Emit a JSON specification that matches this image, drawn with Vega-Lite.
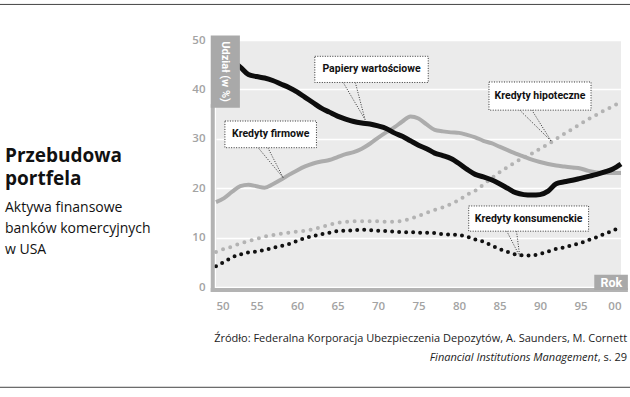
{
  "$schema": "https://vega.github.io/schema/vega-lite/v6.json",
  "width": 405,
  "height": 247,
  "autosize": {"type": "none"},
  "padding": {"left": 216, "top": 40, "right": 9, "bottom": 110},
  "background": "white",
  "config": {
    "view": {"fill": "#ebebeb", "stroke": null},
    "font": "Open Sans"
  },
  "title": {
    "text": ["Przebudowa", "portfela"],
    "subtitle": ["Aktywa finansowe", "banków komercyjnych", "w USA"],
    "anchor": "start",
    "frame": "group",
    "orient": "top",
    "font": "Open Sans",
    "fontSize": 19,
    "fontWeight": "bold",
    "color": "#111111",
    "lineHeight": 23,
    "subtitleFont": "Open Sans",
    "subtitleFontSize": 14,
    "subtitleColor": "#111111",
    "subtitleLineHeight": 21,
    "subtitlePadding": 12,
    "offset": 0,
    "dx": -211,
    "dy": 253
  },
  "datasets": {
    "series": [
      {"seria": "Papiery wartościowe", "rok": 50, "udzial": 47.0},
      {"seria": "Papiery wartościowe", "rok": 51, "udzial": 46.3},
      {"seria": "Papiery wartościowe", "rok": 52, "udzial": 45.7},
      {"seria": "Papiery wartościowe", "rok": 53, "udzial": 44.5},
      {"seria": "Papiery wartościowe", "rok": 54, "udzial": 43.0},
      {"seria": "Papiery wartościowe", "rok": 55, "udzial": 42.6},
      {"seria": "Papiery wartościowe", "rok": 56, "udzial": 42.3},
      {"seria": "Papiery wartościowe", "rok": 57, "udzial": 41.8},
      {"seria": "Papiery wartościowe", "rok": 58, "udzial": 41.1},
      {"seria": "Papiery wartościowe", "rok": 59, "udzial": 40.4},
      {"seria": "Papiery wartościowe", "rok": 60, "udzial": 39.5},
      {"seria": "Papiery wartościowe", "rok": 61, "udzial": 38.4},
      {"seria": "Papiery wartościowe", "rok": 62, "udzial": 37.3},
      {"seria": "Papiery wartościowe", "rok": 63, "udzial": 36.2},
      {"seria": "Papiery wartościowe", "rok": 64, "udzial": 35.4},
      {"seria": "Papiery wartościowe", "rok": 65, "udzial": 34.6},
      {"seria": "Papiery wartościowe", "rok": 66, "udzial": 34.0},
      {"seria": "Papiery wartościowe", "rok": 67, "udzial": 33.5},
      {"seria": "Papiery wartościowe", "rok": 68, "udzial": 33.2},
      {"seria": "Papiery wartościowe", "rok": 69, "udzial": 33.0},
      {"seria": "Papiery wartościowe", "rok": 70, "udzial": 32.6},
      {"seria": "Papiery wartościowe", "rok": 71, "udzial": 32.1},
      {"seria": "Papiery wartościowe", "rok": 72, "udzial": 31.2},
      {"seria": "Papiery wartościowe", "rok": 73, "udzial": 30.5},
      {"seria": "Papiery wartościowe", "rok": 74, "udzial": 29.6},
      {"seria": "Papiery wartościowe", "rok": 75, "udzial": 28.7},
      {"seria": "Papiery wartościowe", "rok": 76, "udzial": 28.0},
      {"seria": "Papiery wartościowe", "rok": 77, "udzial": 27.1},
      {"seria": "Papiery wartościowe", "rok": 78, "udzial": 26.6},
      {"seria": "Papiery wartościowe", "rok": 79, "udzial": 26.0},
      {"seria": "Papiery wartościowe", "rok": 80, "udzial": 25.0},
      {"seria": "Papiery wartościowe", "rok": 81, "udzial": 23.8},
      {"seria": "Papiery wartościowe", "rok": 82, "udzial": 22.8},
      {"seria": "Papiery wartościowe", "rok": 83, "udzial": 22.3},
      {"seria": "Papiery wartościowe", "rok": 84, "udzial": 21.7},
      {"seria": "Papiery wartościowe", "rok": 85, "udzial": 20.9},
      {"seria": "Papiery wartościowe", "rok": 86, "udzial": 20.0},
      {"seria": "Papiery wartościowe", "rok": 87, "udzial": 19.1},
      {"seria": "Papiery wartościowe", "rok": 88, "udzial": 18.7},
      {"seria": "Papiery wartościowe", "rok": 89, "udzial": 18.6},
      {"seria": "Papiery wartościowe", "rok": 90, "udzial": 18.7},
      {"seria": "Papiery wartościowe", "rok": 91, "udzial": 19.4},
      {"seria": "Papiery wartościowe", "rok": 92, "udzial": 20.9},
      {"seria": "Papiery wartościowe", "rok": 93, "udzial": 21.3},
      {"seria": "Papiery wartościowe", "rok": 94, "udzial": 21.6},
      {"seria": "Papiery wartościowe", "rok": 95, "udzial": 22.0},
      {"seria": "Papiery wartościowe", "rok": 96, "udzial": 22.4},
      {"seria": "Papiery wartościowe", "rok": 97, "udzial": 22.8},
      {"seria": "Papiery wartościowe", "rok": 98, "udzial": 23.3},
      {"seria": "Papiery wartościowe", "rok": 99, "udzial": 23.9},
      {"seria": "Papiery wartościowe", "rok": 100, "udzial": 24.9},

      {"seria": "Kredyty firmowe", "rok": 50, "udzial": 17.2},
      {"seria": "Kredyty firmowe", "rok": 51, "udzial": 18.0},
      {"seria": "Kredyty firmowe", "rok": 52, "udzial": 19.3},
      {"seria": "Kredyty firmowe", "rok": 53, "udzial": 20.4},
      {"seria": "Kredyty firmowe", "rok": 54, "udzial": 20.7},
      {"seria": "Kredyty firmowe", "rok": 55, "udzial": 20.4},
      {"seria": "Kredyty firmowe", "rok": 56, "udzial": 20.1},
      {"seria": "Kredyty firmowe", "rok": 57, "udzial": 20.8},
      {"seria": "Kredyty firmowe", "rok": 58, "udzial": 21.7},
      {"seria": "Kredyty firmowe", "rok": 59, "udzial": 22.7},
      {"seria": "Kredyty firmowe", "rok": 60, "udzial": 23.6},
      {"seria": "Kredyty firmowe", "rok": 61, "udzial": 24.4},
      {"seria": "Kredyty firmowe", "rok": 62, "udzial": 25.0},
      {"seria": "Kredyty firmowe", "rok": 63, "udzial": 25.4},
      {"seria": "Kredyty firmowe", "rok": 64, "udzial": 25.7},
      {"seria": "Kredyty firmowe", "rok": 65, "udzial": 26.3},
      {"seria": "Kredyty firmowe", "rok": 66, "udzial": 26.9},
      {"seria": "Kredyty firmowe", "rok": 67, "udzial": 27.3},
      {"seria": "Kredyty firmowe", "rok": 68, "udzial": 28.0},
      {"seria": "Kredyty firmowe", "rok": 69, "udzial": 29.0},
      {"seria": "Kredyty firmowe", "rok": 70, "udzial": 30.2},
      {"seria": "Kredyty firmowe", "rok": 71, "udzial": 31.3},
      {"seria": "Kredyty firmowe", "rok": 72, "udzial": 32.3},
      {"seria": "Kredyty firmowe", "rok": 73, "udzial": 33.5},
      {"seria": "Kredyty firmowe", "rok": 74, "udzial": 34.5},
      {"seria": "Kredyty firmowe", "rok": 75, "udzial": 34.1},
      {"seria": "Kredyty firmowe", "rok": 76, "udzial": 32.9},
      {"seria": "Kredyty firmowe", "rok": 77, "udzial": 31.8},
      {"seria": "Kredyty firmowe", "rok": 78, "udzial": 31.5},
      {"seria": "Kredyty firmowe", "rok": 79, "udzial": 31.3},
      {"seria": "Kredyty firmowe", "rok": 80, "udzial": 31.2},
      {"seria": "Kredyty firmowe", "rok": 81, "udzial": 30.8},
      {"seria": "Kredyty firmowe", "rok": 82, "udzial": 30.3},
      {"seria": "Kredyty firmowe", "rok": 83, "udzial": 29.6},
      {"seria": "Kredyty firmowe", "rok": 84, "udzial": 29.1},
      {"seria": "Kredyty firmowe", "rok": 85, "udzial": 28.4},
      {"seria": "Kredyty firmowe", "rok": 86, "udzial": 27.7},
      {"seria": "Kredyty firmowe", "rok": 87, "udzial": 27.0},
      {"seria": "Kredyty firmowe", "rok": 88, "udzial": 26.4},
      {"seria": "Kredyty firmowe", "rok": 89, "udzial": 25.8},
      {"seria": "Kredyty firmowe", "rok": 90, "udzial": 25.3},
      {"seria": "Kredyty firmowe", "rok": 91, "udzial": 24.9},
      {"seria": "Kredyty firmowe", "rok": 92, "udzial": 24.6},
      {"seria": "Kredyty firmowe", "rok": 93, "udzial": 24.4},
      {"seria": "Kredyty firmowe", "rok": 94, "udzial": 24.2},
      {"seria": "Kredyty firmowe", "rok": 95, "udzial": 24.0},
      {"seria": "Kredyty firmowe", "rok": 96, "udzial": 23.5},
      {"seria": "Kredyty firmowe", "rok": 97, "udzial": 23.2},
      {"seria": "Kredyty firmowe", "rok": 98, "udzial": 23.1},
      {"seria": "Kredyty firmowe", "rok": 99, "udzial": 23.1},
      {"seria": "Kredyty firmowe", "rok": 100, "udzial": 23.1},

      {"seria": "Kredyty hipoteczne", "rok": 50, "udzial": 7.1},
      {"seria": "Kredyty hipoteczne", "rok": 51, "udzial": 7.7},
      {"seria": "Kredyty hipoteczne", "rok": 52, "udzial": 8.2},
      {"seria": "Kredyty hipoteczne", "rok": 53, "udzial": 8.8},
      {"seria": "Kredyty hipoteczne", "rok": 54, "udzial": 9.3},
      {"seria": "Kredyty hipoteczne", "rok": 55, "udzial": 9.7},
      {"seria": "Kredyty hipoteczne", "rok": 56, "udzial": 10.2},
      {"seria": "Kredyty hipoteczne", "rok": 57, "udzial": 10.5},
      {"seria": "Kredyty hipoteczne", "rok": 58, "udzial": 10.8},
      {"seria": "Kredyty hipoteczne", "rok": 59, "udzial": 11.0},
      {"seria": "Kredyty hipoteczne", "rok": 60, "udzial": 11.2},
      {"seria": "Kredyty hipoteczne", "rok": 61, "udzial": 11.4},
      {"seria": "Kredyty hipoteczne", "rok": 62, "udzial": 11.7},
      {"seria": "Kredyty hipoteczne", "rok": 63, "udzial": 12.1},
      {"seria": "Kredyty hipoteczne", "rok": 64, "udzial": 12.6},
      {"seria": "Kredyty hipoteczne", "rok": 65, "udzial": 13.0},
      {"seria": "Kredyty hipoteczne", "rok": 66, "udzial": 13.2},
      {"seria": "Kredyty hipoteczne", "rok": 67, "udzial": 13.3},
      {"seria": "Kredyty hipoteczne", "rok": 68, "udzial": 13.3},
      {"seria": "Kredyty hipoteczne", "rok": 69, "udzial": 13.3},
      {"seria": "Kredyty hipoteczne", "rok": 70, "udzial": 13.3},
      {"seria": "Kredyty hipoteczne", "rok": 71, "udzial": 13.2},
      {"seria": "Kredyty hipoteczne", "rok": 72, "udzial": 13.2},
      {"seria": "Kredyty hipoteczne", "rok": 73, "udzial": 13.4},
      {"seria": "Kredyty hipoteczne", "rok": 74, "udzial": 13.8},
      {"seria": "Kredyty hipoteczne", "rok": 75, "udzial": 14.4},
      {"seria": "Kredyty hipoteczne", "rok": 76, "udzial": 15.0},
      {"seria": "Kredyty hipoteczne", "rok": 77, "udzial": 15.6},
      {"seria": "Kredyty hipoteczne", "rok": 78, "udzial": 16.1},
      {"seria": "Kredyty hipoteczne", "rok": 79, "udzial": 16.8},
      {"seria": "Kredyty hipoteczne", "rok": 80, "udzial": 17.6},
      {"seria": "Kredyty hipoteczne", "rok": 81, "udzial": 18.7},
      {"seria": "Kredyty hipoteczne", "rok": 82, "udzial": 19.5},
      {"seria": "Kredyty hipoteczne", "rok": 83, "udzial": 20.7},
      {"seria": "Kredyty hipoteczne", "rok": 84, "udzial": 22.0},
      {"seria": "Kredyty hipoteczne", "rok": 85, "udzial": 23.2},
      {"seria": "Kredyty hipoteczne", "rok": 86, "udzial": 24.3},
      {"seria": "Kredyty hipoteczne", "rok": 87, "udzial": 25.3},
      {"seria": "Kredyty hipoteczne", "rok": 88, "udzial": 26.2},
      {"seria": "Kredyty hipoteczne", "rok": 89, "udzial": 27.0},
      {"seria": "Kredyty hipoteczne", "rok": 90, "udzial": 28.0},
      {"seria": "Kredyty hipoteczne", "rok": 91, "udzial": 28.9},
      {"seria": "Kredyty hipoteczne", "rok": 92, "udzial": 30.0},
      {"seria": "Kredyty hipoteczne", "rok": 93, "udzial": 31.0},
      {"seria": "Kredyty hipoteczne", "rok": 94, "udzial": 32.0},
      {"seria": "Kredyty hipoteczne", "rok": 95, "udzial": 33.0},
      {"seria": "Kredyty hipoteczne", "rok": 96, "udzial": 34.0},
      {"seria": "Kredyty hipoteczne", "rok": 97, "udzial": 34.9},
      {"seria": "Kredyty hipoteczne", "rok": 98, "udzial": 35.8},
      {"seria": "Kredyty hipoteczne", "rok": 99, "udzial": 36.6},
      {"seria": "Kredyty hipoteczne", "rok": 100, "udzial": 37.5},

      {"seria": "Kredyty konsumenckie", "rok": 50, "udzial": 4.2},
      {"seria": "Kredyty konsumenckie", "rok": 51, "udzial": 5.1},
      {"seria": "Kredyty konsumenckie", "rok": 52, "udzial": 6.0},
      {"seria": "Kredyty konsumenckie", "rok": 53, "udzial": 6.6},
      {"seria": "Kredyty konsumenckie", "rok": 54, "udzial": 7.0},
      {"seria": "Kredyty konsumenckie", "rok": 55, "udzial": 7.2},
      {"seria": "Kredyty konsumenckie", "rok": 56, "udzial": 7.5},
      {"seria": "Kredyty konsumenckie", "rok": 57, "udzial": 7.9},
      {"seria": "Kredyty konsumenckie", "rok": 58, "udzial": 8.3},
      {"seria": "Kredyty konsumenckie", "rok": 59, "udzial": 8.7},
      {"seria": "Kredyty konsumenckie", "rok": 60, "udzial": 9.3},
      {"seria": "Kredyty konsumenckie", "rok": 61, "udzial": 9.9},
      {"seria": "Kredyty konsumenckie", "rok": 62, "udzial": 10.3},
      {"seria": "Kredyty konsumenckie", "rok": 63, "udzial": 10.7},
      {"seria": "Kredyty konsumenckie", "rok": 64, "udzial": 11.0},
      {"seria": "Kredyty konsumenckie", "rok": 65, "udzial": 11.3},
      {"seria": "Kredyty konsumenckie", "rok": 66, "udzial": 11.4},
      {"seria": "Kredyty konsumenckie", "rok": 67, "udzial": 11.5},
      {"seria": "Kredyty konsumenckie", "rok": 68, "udzial": 11.6},
      {"seria": "Kredyty konsumenckie", "rok": 69, "udzial": 11.5},
      {"seria": "Kredyty konsumenckie", "rok": 70, "udzial": 11.4},
      {"seria": "Kredyty konsumenckie", "rok": 71, "udzial": 11.3},
      {"seria": "Kredyty konsumenckie", "rok": 72, "udzial": 11.2},
      {"seria": "Kredyty konsumenckie", "rok": 73, "udzial": 11.1},
      {"seria": "Kredyty konsumenckie", "rok": 74, "udzial": 11.1},
      {"seria": "Kredyty konsumenckie", "rok": 75, "udzial": 11.0},
      {"seria": "Kredyty konsumenckie", "rok": 76, "udzial": 11.0},
      {"seria": "Kredyty konsumenckie", "rok": 77, "udzial": 10.9},
      {"seria": "Kredyty konsumenckie", "rok": 78, "udzial": 10.7},
      {"seria": "Kredyty konsumenckie", "rok": 79, "udzial": 10.6},
      {"seria": "Kredyty konsumenckie", "rok": 80, "udzial": 10.5},
      {"seria": "Kredyty konsumenckie", "rok": 81, "udzial": 10.2},
      {"seria": "Kredyty konsumenckie", "rok": 82, "udzial": 9.6},
      {"seria": "Kredyty konsumenckie", "rok": 83, "udzial": 9.2},
      {"seria": "Kredyty konsumenckie", "rok": 84, "udzial": 8.4},
      {"seria": "Kredyty konsumenckie", "rok": 85, "udzial": 7.7},
      {"seria": "Kredyty konsumenckie", "rok": 86, "udzial": 7.1},
      {"seria": "Kredyty konsumenckie", "rok": 87, "udzial": 6.6},
      {"seria": "Kredyty konsumenckie", "rok": 88, "udzial": 6.4},
      {"seria": "Kredyty konsumenckie", "rok": 89, "udzial": 6.4},
      {"seria": "Kredyty konsumenckie", "rok": 90, "udzial": 6.7},
      {"seria": "Kredyty konsumenckie", "rok": 91, "udzial": 7.2},
      {"seria": "Kredyty konsumenckie", "rok": 92, "udzial": 7.7},
      {"seria": "Kredyty konsumenckie", "rok": 93, "udzial": 8.0},
      {"seria": "Kredyty konsumenckie", "rok": 94, "udzial": 8.5},
      {"seria": "Kredyty konsumenckie", "rok": 95, "udzial": 8.9},
      {"seria": "Kredyty konsumenckie", "rok": 96, "udzial": 9.5},
      {"seria": "Kredyty konsumenckie", "rok": 97, "udzial": 10.1},
      {"seria": "Kredyty konsumenckie", "rok": 98, "udzial": 10.8},
      {"seria": "Kredyty konsumenckie", "rok": 99, "udzial": 11.4},
      {"seria": "Kredyty konsumenckie", "rok": 100, "udzial": 12.2}
    ],
    "callouts": [
      {"label": "Papiery wartościowe", "x1": 62.2, "x2": 76.2, "y1": 41.4, "y2": 46.7, "tx": 69.2, "ty": 44.05, "base1": 65.7, "base2": 67.2, "tipx": 68.4, "tipy": 33.9},
      {"label": "Kredyty firmowe", "x1": 51.1, "x2": 62.4, "y1": 28.2, "y2": 33.6, "tx": 56.75, "ty": 30.9, "base1": 55.2, "base2": 56.4, "tipx": 58.3, "tipy": 22.1},
      {"label": "Kredyty hipoteczne", "x1": 83.7, "x2": 96.3, "y1": 35.8, "y2": 41.5, "tx": 90.0, "ty": 38.65, "base1": 87.5, "base2": 89.0, "tipx": 91.4, "tipy": 29.5},
      {"label": "Kredyty konsumenckie", "x1": 81.2, "x2": 96.0, "y1": 11.3, "y2": 16.4, "tx": 88.6, "ty": 13.85, "base1": 85.9, "base2": 87.1, "tipx": 87.5, "tipy": 6.2}
    ]
  },
  "layer": [
    {
      "data": {"name": "series"},
      "transform": [{"filter": "datum.seria === 'Kredyty hipoteczne'"}],
      "mark": {"type": "line", "interpolate": "monotone", "color": "#b3b3b3", "strokeWidth": 4, "strokeCap": "round", "strokeDash": [0, 7.5]},
      "encoding": {
        "x": {"field": "rok", "type": "quantitative", "scale": {"domain": [50, 100], "nice": false, "zero": false},
          "axis": {"values": [50, 55, 60, 65, 70, 75, 80, 85, 90, 95, 100], "labelExpr": "datum.value == 100 ? '00' : datum.label", "domain": false, "ticks": false, "grid": false, "labelPadding": 13, "labelColor": "#a3a3a3", "labelFont": "Open Sans", "labelFontWeight": 600, "labelFontSize": 11.5, "title": null}},
        "y": {"field": "udzial", "type": "quantitative", "scale": {"domain": [0, 50], "nice": false},
          "axis": {"values": [0, 10, 20, 30, 40, 50], "domain": false, "ticks": false, "grid": true, "gridColor": "white", "gridWidth": 1.5, "labelPadding": 11, "labelColor": "#a3a3a3", "labelFont": "Open Sans", "labelFontWeight": 600, "labelFontSize": 11.5, "title": null}}
      }
    },
    {
      "data": {"name": "series"},
      "transform": [{"filter": "datum.seria === 'Kredyty firmowe'"}],
      "mark": {"type": "line", "interpolate": "monotone", "color": "#acacac", "strokeWidth": 4},
      "encoding": {
        "x": {"field": "rok", "type": "quantitative"},
        "y": {"field": "udzial", "type": "quantitative"}
      }
    },
    {
      "data": {"name": "series"},
      "transform": [{"filter": "datum.seria === 'Kredyty konsumenckie'"}],
      "mark": {"type": "line", "interpolate": "monotone", "color": "#111111", "strokeWidth": 4, "strokeCap": "round", "strokeDash": [0, 7]},
      "encoding": {
        "x": {"field": "rok", "type": "quantitative"},
        "y": {"field": "udzial", "type": "quantitative"}
      }
    },
    {
      "data": {"name": "series"},
      "transform": [{"filter": "datum.seria === 'Papiery wartościowe'"}],
      "mark": {"type": "line", "interpolate": "monotone", "color": "#0d0d0d", "strokeWidth": 5},
      "encoding": {
        "x": {"field": "rok", "type": "quantitative"},
        "y": {"field": "udzial", "type": "quantitative"}
      }
    },
    {
      "data": {"values": [{}]},
      "mark": {"type": "rule", "color": "#b3b3b3", "strokeWidth": 4},
      "encoding": {"x": {"datum": 49.6}, "y": {"datum": -0.95}, "y2": {"datum": 37}}
    },
    {
      "data": {"values": [{}]},
      "mark": {"type": "rule", "color": "#b3b3b3", "strokeWidth": 4},
      "encoding": {"x": {"datum": 49.35}, "x2": {"datum": 100.85}, "y": {"datum": -0.6}}
    },
    {
      "data": {"values": [{}]},
      "mark": {"type": "rect", "color": "#a9a9a9"},
      "encoding": {"x": {"datum": 49.35}, "x2": {"datum": 52.95}, "y": {"datum": 36.3}, "y2": {"datum": 50.9}}
    },
    {
      "data": {"values": [{}]},
      "mark": {"type": "text", "text": "Udział (w %)", "angle": 90, "color": "white", "font": "Roboto", "fontWeight": "bold", "fontSize": 11, "align": "center", "baseline": "middle"},
      "encoding": {"x": {"datum": 51.15}, "y": {"datum": 43.6}}
    },
    {
      "data": {"values": [{}]},
      "mark": {"type": "rect", "color": "#a9a9a9"},
      "encoding": {"x": {"datum": 96.7}, "x2": {"datum": 100.85}, "y": {"datum": -0.6}, "y2": {"datum": 2.5}}
    },
    {
      "data": {"values": [{}]},
      "mark": {"type": "text", "text": "Rok", "color": "white", "font": "Roboto", "fontWeight": "bold", "fontSize": 12.5, "align": "center", "baseline": "middle"},
      "encoding": {"x": {"datum": 98.8}, "y": {"datum": 0.9}}
    },
    {
      "data": {"name": "callouts"},
      "mark": {"type": "rule", "color": "#333333", "strokeWidth": 1, "strokeDash": [1, 1.5]},
      "encoding": {"x": {"field": "base1", "type": "quantitative"}, "y": {"field": "y1", "type": "quantitative"}, "x2": {"field": "tipx"}, "y2": {"field": "tipy"}}
    },
    {
      "data": {"name": "callouts"},
      "mark": {"type": "rule", "color": "#333333", "strokeWidth": 1, "strokeDash": [1, 1.5]},
      "encoding": {"x": {"field": "base2", "type": "quantitative"}, "y": {"field": "y1", "type": "quantitative"}, "x2": {"field": "tipx"}, "y2": {"field": "tipy"}}
    },
    {
      "data": {"name": "callouts"},
      "mark": {"type": "rect", "fill": "white", "stroke": "#333333", "strokeWidth": 1, "strokeDash": [1, 1.5]},
      "encoding": {"x": {"field": "x1", "type": "quantitative"}, "x2": {"field": "x2"}, "y": {"field": "y1", "type": "quantitative"}, "y2": {"field": "y2"}}
    },
    {
      "data": {"name": "callouts"},
      "mark": {"type": "text", "font": "Roboto", "fontWeight": "bold", "fontSize": 10.5, "color": "#111111", "align": "center", "baseline": "middle"},
      "encoding": {"x": {"field": "tx", "type": "quantitative"}, "y": {"field": "ty", "type": "quantitative"}, "text": {"field": "label"}}
    },
    {
      "data": {"values": [{}]},
      "mark": {"type": "text", "text": "Źródło: Federalna Korporacja Ubezpieczenia Depozytów, A. Saunders, M. Cornett", "font": "Open Sans", "fontSize": 11, "color": "#222222", "align": "right", "baseline": "alphabetic"},
      "encoding": {"x": {"datum": 100.75}, "y": {"datum": -11.2}}
    },
    {
      "data": {"values": [{}]},
      "mark": {"type": "text", "text": ", s. 29", "font": "Open Sans", "fontSize": 11, "color": "#222222", "align": "right", "baseline": "alphabetic"},
      "encoding": {"x": {"datum": 100.75}, "y": {"datum": -15.0}}
    },
    {
      "data": {"values": [{}]},
      "mark": {"type": "text", "text": "Financial Institutions Management", "font": "Open Sans", "fontStyle": "italic", "fontSize": 11, "color": "#222222", "align": "right", "baseline": "alphabetic", "dx": -29.5},
      "encoding": {"x": {"datum": 100.75}, "y": {"datum": -15.0}}
    },
    {
      "data": {"values": [{}]},
      "mark": {"type": "rule", "color": "#444444", "strokeWidth": 1},
      "encoding": {"x": {"datum": 23}, "x2": {"datum": 102}, "y": {"datum": 57.2}}
    },
    {
      "data": {"values": [{}]},
      "mark": {"type": "rule", "color": "#444444", "strokeWidth": 1},
      "encoding": {"x": {"datum": 23}, "x2": {"datum": 102}, "y": {"datum": -20.3}}
    }
  ]
}
